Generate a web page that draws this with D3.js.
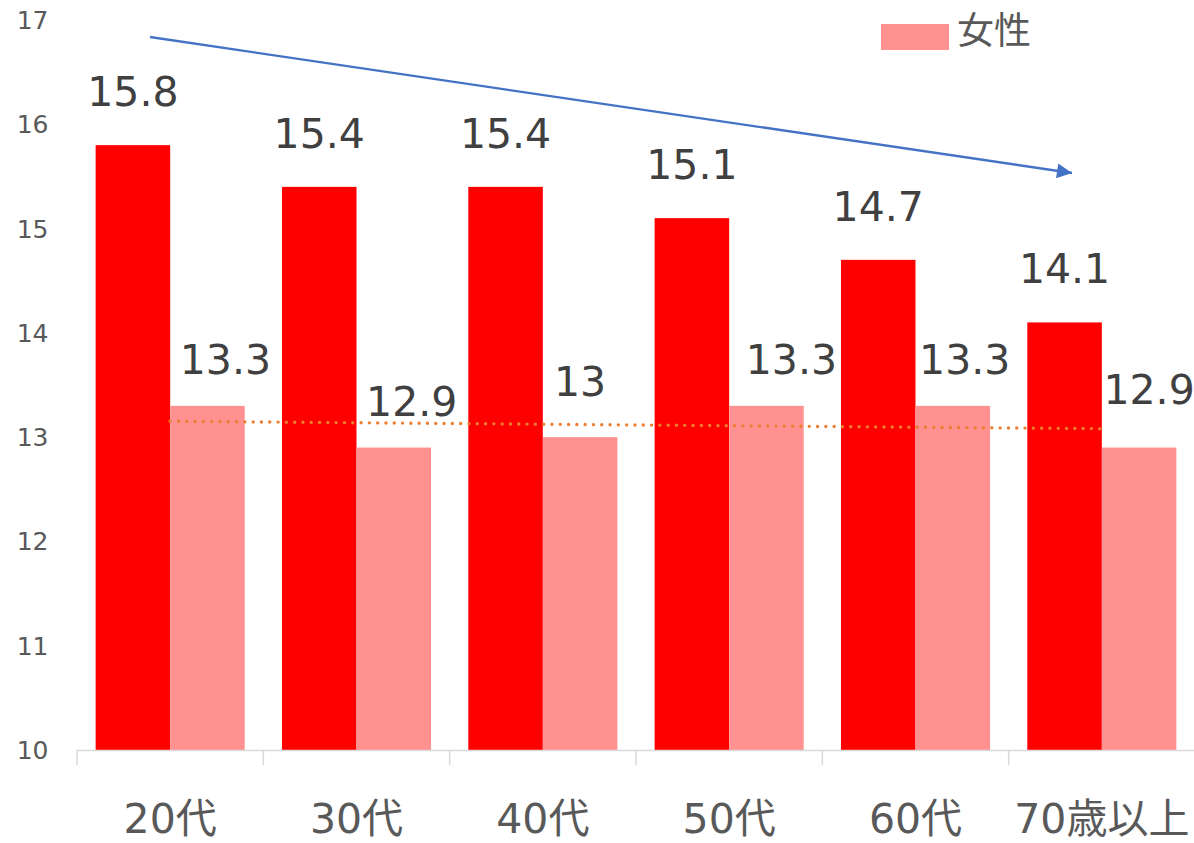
<!DOCTYPE html>
<html lang="ja">
<head>
<meta charset="utf-8">
<script src="https://cdn.jsdelivr.net/npm/d3@7"></script>
<style>
  html, body { margin: 0; padding: 0; background: #fff; }
  svg { display: block; }
  text { font-family: "DejaVu Sans", "Noto Sans CJK JP", sans-serif; }
</style>
</head>
<body>
<svg id="chart" width="1194" height="843"></svg>
<script>
// Age groups and average values per group
const categories = ["20代", "30代", "40代", "50代", "60代", "70歳以上"];
const maleValues = [15.8, 15.4, 15.4, 15.1, 14.7, 14.1];
const femaleValues = [13.3, 12.9, 13, 13.3, 13.3, 12.9];
const yTicks = [10, 11, 12, 13, 14, 15, 16, 17];
const legendLabel = "女性";

// Hand-placed nudges (dx, dy) for the female value labels
const femaleLabelNudge = [[18, 7], [18, 7], [0, -2], [25, 7], [12, 7], [10, -5]];

const colors = { male: "#FF0000", female: "#FF9191", trend: "#ED7D31", arrow: "#4472C4" };

const svg = d3.select("#chart");

const x = d3.scaleBand()
  .domain(categories)
  .range([77, 1195])
  .paddingInner(0.2)
  .paddingOuter(0.1);

const y = d3.scaleLinear().domain([10, 17]).range([750, 20]);

const half = x.bandwidth() / 2;

// Bars
const g = svg.append("g");
g.selectAll("rect.male")
  .data(maleValues)
  .join("rect")
  .attr("class", "male")
  .attr("x", (d, i) => x(categories[i]))
  .attr("y", d => y(d))
  .attr("width", half)
  .attr("height", d => y(10) - y(d))
  .attr("fill", colors.male);

g.selectAll("rect.female")
  .data(femaleValues)
  .join("rect")
  .attr("class", "female")
  .attr("x", (d, i) => x(categories[i]) + half)
  .attr("y", d => y(d))
  .attr("width", half)
  .attr("height", d => y(10) - y(d))
  .attr("fill", colors.female);

// Linear trend of the female series, drawn between the first and last group centres
const n = femaleValues.length;
const xs = d3.range(n);
const mx = d3.mean(xs), my = d3.mean(femaleValues);
const slope = d3.sum(xs, i => (i - mx) * (femaleValues[i] - my)) / d3.sum(xs, i => (i - mx) ** 2);
const intercept = my - slope * mx;
const center = i => x(categories[i]) + x.bandwidth() / 2;
svg.append("line")
  .attr("x1", center(0))
  .attr("y1", y(intercept))
  .attr("x2", center(n - 1))
  .attr("y2", y(intercept + slope * (n - 1)))
  .attr("stroke", colors.trend)
  .attr("stroke-width", 3.4)
  .attr("stroke-linecap", "round")
  .attr("stroke-dasharray", "0 8.3");

// Value labels
const fmt = d => String(d);
svg.selectAll("text.male-label")
  .data(maleValues)
  .join("text")
  .attr("class", "male-label")
  .attr("x", (d, i) => x(categories[i]) + half / 2)
  .attr("y", d => y(d) - 39)
  .attr("text-anchor", "middle")
  .attr("font-size", 41)
  .attr("fill", "#404040")
  .text(fmt);

svg.selectAll("text.female-label")
  .data(femaleValues)
  .join("text")
  .attr("class", "female-label")
  .attr("x", (d, i) => x(categories[i]) + half * 1.5 + femaleLabelNudge[i][0])
  .attr("y", (d, i) => y(d) - 39 + femaleLabelNudge[i][1])
  .attr("text-anchor", "middle")
  .attr("font-size", 41)
  .attr("fill", "#404040")
  .text(fmt);

// Y axis labels (no axis line)
svg.append("g")
  .selectAll("text")
  .data(yTicks)
  .join("text")
  .attr("x", 48.5)
  .attr("y", d => y(d) + 9)
  .attr("text-anchor", "end")
  .attr("font-size", 25)
  .attr("fill", "#595959")
  .text(d => d);

// X axis: baseline with tick marks between groups
const xAxis = svg.append("g");
xAxis.append("line")
  .attr("x1", x.range()[0]).attr("x2", x.range()[1])
  .attr("y1", y(10) + 0.5).attr("y2", y(10) + 0.5)
  .attr("stroke", "#D9D9D9").attr("stroke-width", 1.5);
const boundaries = categories.map(c => x(c) - x.step() * x.paddingOuter());
boundaries.push(x.range()[1]);
xAxis.selectAll("line.tick")
  .data(boundaries)
  .join("line")
  .attr("class", "tick")
  .attr("x1", d => d).attr("x2", d => d)
  .attr("y1", y(10)).attr("y2", y(10) + 15)
  .attr("stroke", "#D9D9D9").attr("stroke-width", 1.5);
xAxis.selectAll("text")
  .data(categories)
  .join("text")
  .attr("x", d => x(d) + x.bandwidth() / 2)
  .attr("y", 833)
  .attr("text-anchor", "middle")
  .attr("font-size", 41)
  .attr("fill", "#595959")
  .text(d => d);

// Legend
svg.append("rect")
  .attr("x", 881).attr("y", 24).attr("width", 68).attr("height", 26)
  .attr("fill", colors.female);
svg.append("text")
  .attr("x", 957).attr("y", 44)
  .attr("font-size", 37)
  .attr("fill", "#595959")
  .text(legendLabel);

// Downward-trend arrow
const defs = svg.append("defs");
defs.append("marker")
  .attr("id", "arrowhead")
  .attr("viewBox", "0 0 10 10")
  .attr("refX", 10).attr("refY", 5)
  .attr("markerUnits", "userSpaceOnUse")
  .attr("markerWidth", 17).attr("markerHeight", 15)
  .attr("orient", "auto")
  .append("path")
  .attr("d", "M0,0 L10,5 L0,10 Z")
  .attr("fill", colors.arrow);
svg.append("line")
  .attr("x1", 150).attr("y1", 37)
  .attr("x2", 1072).attr("y2", 173)
  .attr("stroke", colors.arrow)
  .attr("stroke-width", 2.3)
  .attr("marker-end", "url(#arrowhead)");
</script>
</body>
</html>
